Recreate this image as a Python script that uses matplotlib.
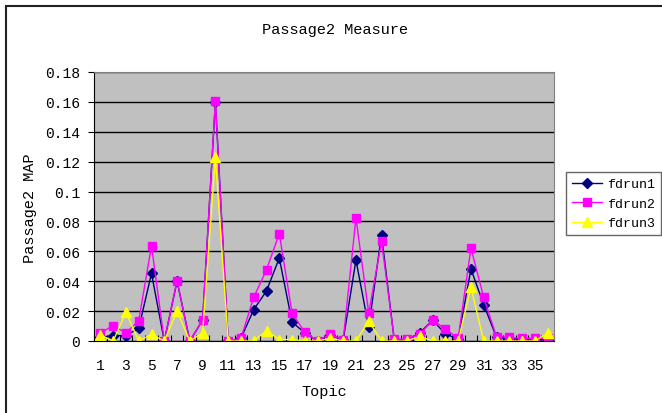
import matplotlib
matplotlib.use("Agg")
import matplotlib.pyplot as plt
from matplotlib.patches import Rectangle
import numpy as np

topics = np.arange(1, 37)

# MAP je Topic, drei Läufe
fdrun1 = [0.0025, 0.0036, 0.0036, 0.0085, 0.0453, 0.0, 0.0400, 0.0, 0.0140, 0.1600,
          0.0, 0.0018, 0.0210, 0.0335, 0.0555, 0.0127, 0.0054, 0.0, 0.0040, 0.0005,
          0.0542, 0.0092, 0.0711, 0.0005, 0.0005, 0.0054, 0.0140, 0.0047, 0.0013, 0.0482,
          0.0243, 0.0025, 0.0013, 0.0013, 0.0013, 0.0005]
fdrun2 = [0.0054, 0.0103, 0.0054, 0.0136, 0.0638, 0.0, 0.0404, 0.0, 0.0140, 0.1608,
          0.0, 0.0018, 0.0292, 0.0477, 0.0718, 0.0187, 0.0058, 0.0, 0.0047, 0.0005,
          0.0823, 0.0187, 0.0667, 0.0013, 0.0013, 0.0045, 0.0140, 0.0080, 0.0018, 0.0622,
          0.0292, 0.0029, 0.0025, 0.0018, 0.0018, 0.0018]
fdrun3 = [0.0040, 0.0, 0.0192, 0.0, 0.0045, 0.0, 0.0199, 0.0, 0.0054, 0.1229,
          0.0, 0.0, 0.0, 0.0069, 0.0010, 0.0010, 0.0, 0.0, 0.0018, 0.0,
          0.0, 0.0132, 0.0, 0.0, 0.0, 0.0031, 0.0, 0.0, 0.0, 0.0359,
          0.0, 0.0, 0.0, 0.0, 0.0, 0.0054]

ytick_werte = [0, 0.02, 0.04, 0.06, 0.08, 0.1, 0.12, 0.14, 0.16, 0.18]
ytick_texte = ["0", "0.02", "0.04", "0.06", "0.08", "0.1", "0.12", "0.14", "0.16", "0.18"]

schrift = "Liberation Mono"
plt.rcParams['font.family'] = [schrift, 'DejaVu Sans']

W, H = 662, 414
fig = plt.figure(figsize=(W / 100, H / 100), dpi=100)

# Rahmen um das ganze Diagramm
fig.patches.append(Rectangle((6 / W, -0.05), 1.1, 1 - 7 / H + 0.05, transform=fig.transFigure,
                             fill=False, edgecolor='#222222', linewidth=1.5))

ax = fig.add_axes([94 / W, 1 - 342 / H, 460 / W, 269 / H])
ax.set_facecolor('#C0C0C0')

ax.plot(topics, fdrun1, color='#000080', marker='D', markersize=5, linewidth=1.0, label='fdrun1')
ax.plot(topics, fdrun2, color='#FF00FF', marker='s', markersize=5.5, linewidth=1.0, label='fdrun2')
ax.plot(topics, fdrun3, color='#FFFF00', marker='^', markersize=6.5, linewidth=1.0, label='fdrun3')

ax.set_xlim(0.5, 36.5)
ax.set_ylim(0, 0.18)
ax.set_yticks(ytick_werte)
ax.set_yticklabels(ytick_texte)
ax.yaxis.grid(True, color='black', linewidth=1.0)
ax.set_axisbelow(True)

# Striche zwischen den Kategorien, Beschriftung jede zweite
ax.set_xticks(np.arange(0.5, 37, 1.0))
ax.set_xticklabels([])
ax.set_xticks(topics[::2], minor=True)
ax.set_xticklabels([str(t) for t in topics[::2]], minor=True)
ax.tick_params(axis='x', which='major', direction='in', length=4, color='black')
ax.tick_params(axis='x', which='minor', length=0, pad=12, labelsize=10.5)
ax.tick_params(axis='y', direction='out', length=4, labelsize=10.5, pad=6)

for s in ['top', 'right']:
    ax.spines[s].set_color('#808080')
for s in ['left', 'bottom']:
    ax.spines[s].set_color('black')

fig.text(335 / W, 1 - 30 / H, 'Passage2 Measure', ha='center', va='center', fontsize=11)
fig.text(30 / W, 1 - 208 / H, 'Passage2 MAP', ha='center', va='center', rotation=90, fontsize=11)
fig.text(324 / W, 1 - 392 / H, 'Topic', ha='center', va='center', fontsize=11)

leg = fig.legend(loc='upper left', bbox_to_anchor=(566 / W, 1 - 173 / H), fontsize=9.5,
                 frameon=True, fancybox=False, shadow=False, borderpad=0.45,
                 handlelength=2.3, handletextpad=0.35, labelspacing=0.55, borderaxespad=0)
leg.get_frame().set_edgecolor('#404040')
leg.get_frame().set_linewidth(1.0)

fig.savefig('out.png', dpi=100)
